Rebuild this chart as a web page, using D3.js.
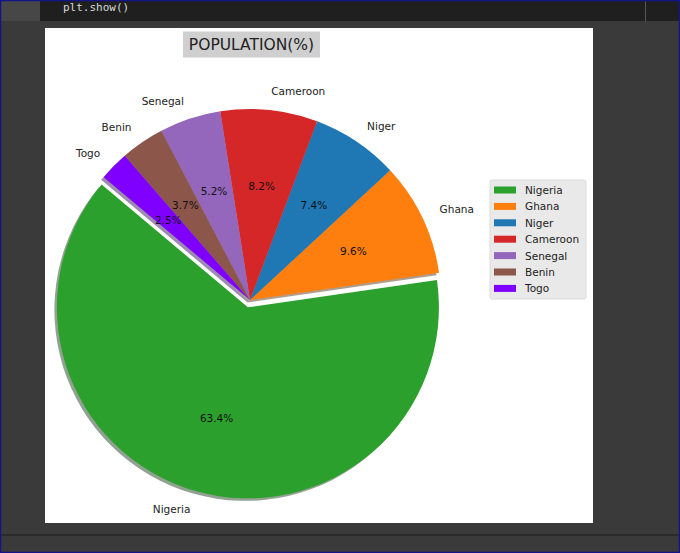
<!DOCTYPE html>
<html>
<head>
<meta charset="utf-8">
<script src="https://cdn.jsdelivr.net/npm/d3@7"></script>
<style>
  html, body { margin: 0; padding: 0; background: #3a3a3a; }
  svg { display: block; }
  text { font-family: "DejaVu Sans", sans-serif; }
</style>
</head>
<body>
<svg id="chart" width="680" height="553"></svg>
<script>
const labels = ["Nigeria", "Ghana", "Niger", "Cameroon", "Senegal", "Benin", "Togo"];
const values = [63.4, 9.6, 7.4, 8.2, 5.2, 3.7, 2.5];
const colors = ["#2ca02c", "#ff7f0e", "#1f77b4", "#d62728", "#9467bd", "#8c564b", "#8000ff"];
const explode = [0.04, 0, 0, 0, 0, 0, 0];
const title = "POPULATION(%)";
const startAngleDeg = 140; // counter-clockwise from 3 o'clock

const svg = d3.select("#chart");

// notebook chrome
svg.append("rect").attr("x", 0).attr("y", 0).attr("width", 680).attr("height", 553).attr("fill", "#3a3a3a");
svg.append("rect").attr("x", 0).attr("y", 0).attr("width", 680).attr("height", 21).attr("fill", "#1f1f1f");
svg.append("rect").attr("x", 0).attr("y", 0).attr("width", 40).attr("height", 21).attr("fill", "#474747");
svg.append("rect").attr("x", 645).attr("y", 0).attr("width", 1).attr("height", 21).attr("fill", "#555");
svg.append("rect").attr("x", 0).attr("y", 534).attr("width", 680).attr("height", 2).attr("fill", "#2a2a2a");
svg.append("text").attr("x", 63).attr("y", 11).attr("fill", "#d8d8d8")
  .attr("font-size", 11).style("font-family", "DejaVu Sans Mono, monospace").text("plt.show()");
svg.append("rect").attr("x", 0.5).attr("y", 0.5).attr("width", 679).attr("height", 552)
  .attr("fill", "none").attr("stroke", "#14148a").attr("stroke-width", 1.5);

// figure area
svg.append("rect").attr("x", 45).attr("y", 28).attr("width", 548).attr("height", 495).attr("fill", "#ffffff");

const cx = 250, cy = 300, r = 191;
const total = d3.sum(values);
const a0 = (90 - startAngleDeg) * Math.PI / 180;
const pie = d3.pie().sort(null).value(d => d).startAngle(a0).endAngle(a0 - 2 * Math.PI);
const arcs = pie(values);
const arcGen = d3.arc().innerRadius(0).outerRadius(r);

const g = svg.append("g").attr("transform", `translate(${cx},${cy})`);

function offs(d, i) {
  const mid = (d.startAngle + d.endAngle) / 2;
  return [Math.sin(mid) * explode[i] * r, -Math.cos(mid) * explode[i] * r, mid];
}

// shadows
g.selectAll("path.shadow").data(arcs).join("path")
  .attr("class", "shadow")
  .attr("d", arcGen)
  .attr("transform", (d, i) => { const [ex, ey] = offs(d, i); return `translate(${ex - 2.5},${ey + 2.5})`; })
  .attr("fill", (d, i) => { const c = d3.rgb(colors[i]); return d3.rgb(c.r * 0.3, c.g * 0.3, c.b * 0.3); })
  .attr("fill-opacity", 0.45);

// wedges
g.selectAll("path.wedge").data(arcs).join("path")
  .attr("class", "wedge")
  .attr("d", arcGen)
  .attr("transform", (d, i) => { const [ex, ey] = offs(d, i); return `translate(${ex},${ey})`; })
  .attr("fill", (d, i) => colors[i]);

// outer labels
g.selectAll("text.lbl").data(arcs).join("text")
  .attr("class", "lbl")
  .attr("x", (d, i) => { const [ex, , mid] = offs(d, i); return ex + Math.sin(mid) * 1.1 * r; })
  .attr("y", (d, i) => { const [, ey, mid] = offs(d, i); return ey - Math.cos(mid) * 1.1 * r; })
  .attr("text-anchor", (d, i) => { const [, , mid] = offs(d, i); return Math.sin(mid) > 0 ? "start" : "end"; })
  .attr("dominant-baseline", "central")
  .attr("font-size", 10.5).attr("fill", "#222")
  .text((d, i) => labels[i]);

// percent labels
const fmt = d3.format(".1f");
g.selectAll("text.pct").data(arcs).join("text")
  .attr("class", "pct")
  .attr("x", (d, i) => { const [ex, , mid] = offs(d, i); return ex + Math.sin(mid) * 0.6 * r; })
  .attr("y", (d, i) => { const [, ey, mid] = offs(d, i); return ey - Math.cos(mid) * 0.6 * r; })
  .attr("text-anchor", "middle")
  .attr("dominant-baseline", "central")
  .attr("font-size", 10.5).attr("fill", "#111")
  .text(d => fmt(d.value / total * 100) + "%");

// title with bbox
svg.append("rect").attr("x", 183).attr("y", 31.5).attr("width", 137).attr("height", 26)
  .attr("fill", "#cfcfcf");
svg.append("text").attr("x", 251.5).attr("y", 45).attr("text-anchor", "middle")
  .attr("dominant-baseline", "central").attr("font-size", 15.5).attr("fill", "#222").text(title);

// legend
const lg = svg.append("g").attr("transform", "translate(490,180)");
lg.append("rect").attr("x", 0).attr("y", 0).attr("width", 96).attr("height", 119).attr("rx", 2)
  .attr("fill", "#e9e9e9").attr("stroke", "#dcdcdc");
const rows = lg.selectAll("g.row").data(labels).join("g").attr("class", "row")
  .attr("transform", (d, i) => `translate(0,${10 + i * 16.4})`);
rows.append("rect").attr("x", 4).attr("y", -3.5).attr("width", 22).attr("height", 7)
  .attr("fill", (d, i) => colors[i]);
rows.append("text").attr("x", 35).attr("y", 0).attr("dominant-baseline", "central")
  .attr("font-size", 10.5).attr("fill", "#222").text(d => d);
</script>
</body>
</html>
